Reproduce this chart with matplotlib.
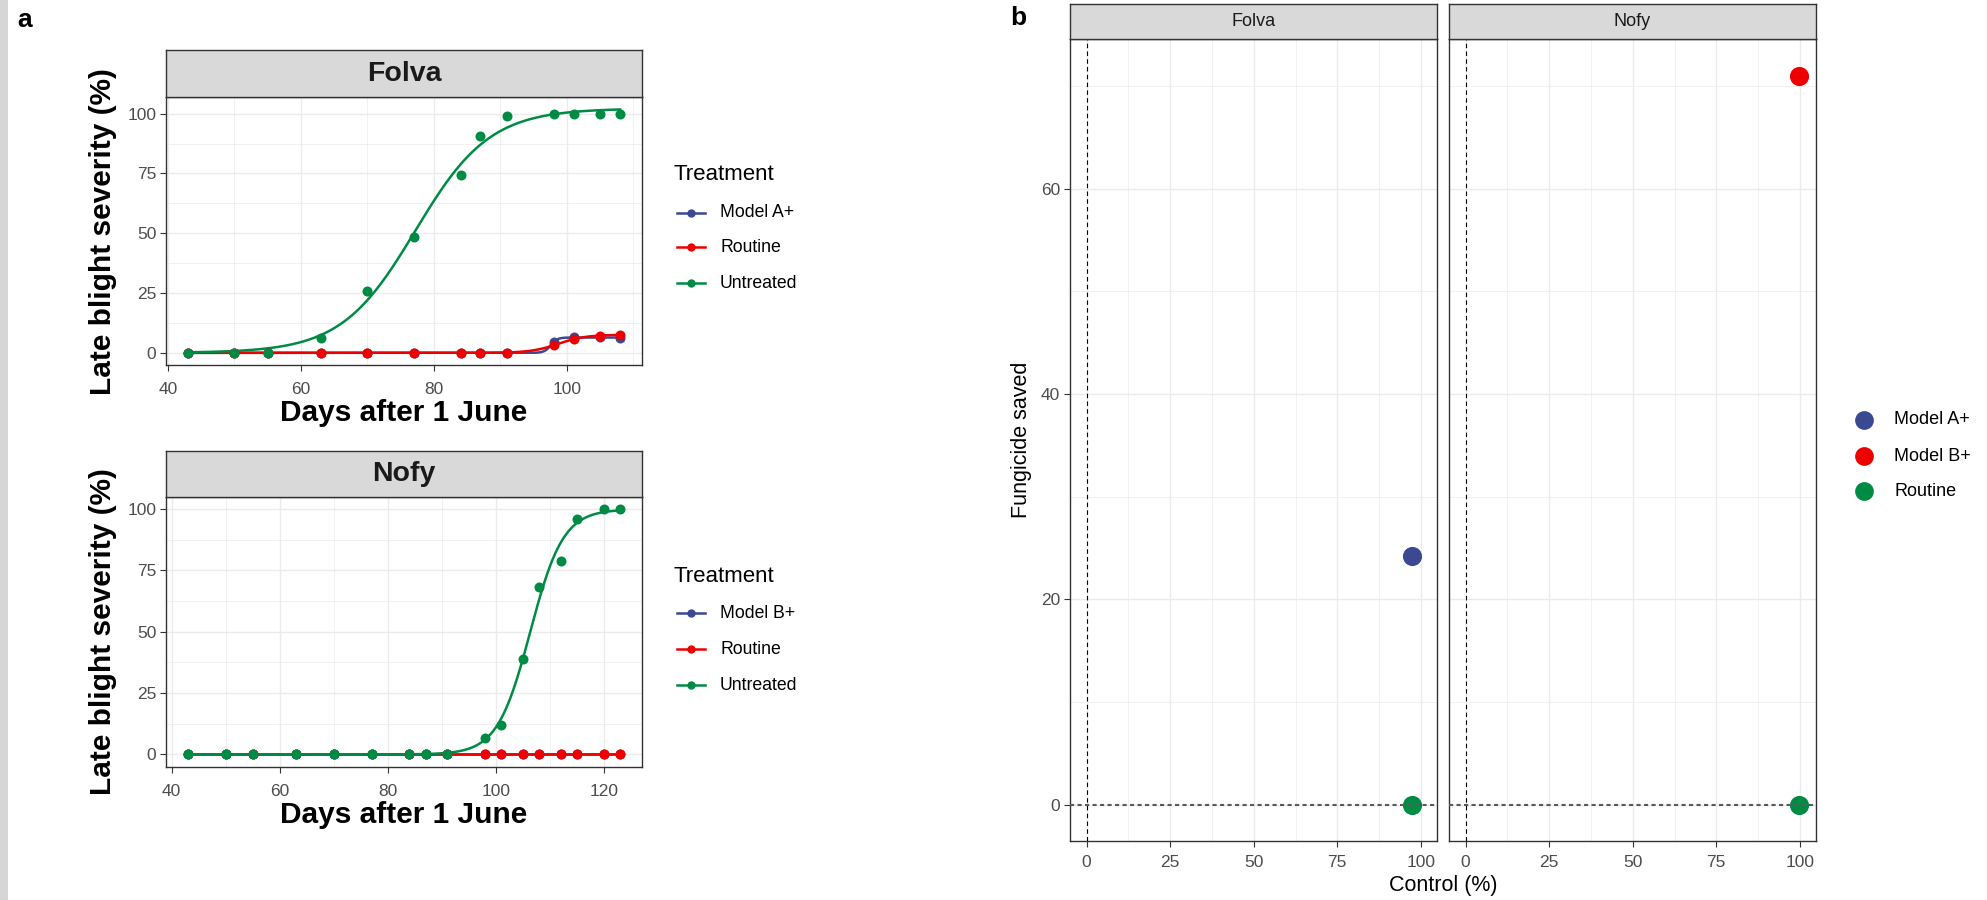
import numpy as np
import matplotlib
matplotlib.use("Agg")
import matplotlib.pyplot as plt
from matplotlib.lines import Line2D
from matplotlib.patches import Rectangle
from matplotlib.ticker import FixedLocator

plt.rcParams['font.family'] = ['Liberation Sans', 'DejaVu Sans']

# ---------------- data ----------------
treat_colors = {"Model A+": "#3B4992", "Model B+": "#3B4992",
                "Routine": "#EE0000", "Untreated": "#008B45"}
b_colors = {"Model A+": "#3B4992", "Model B+": "#EE0000", "Routine": "#008B45"}

days_folva = [43, 50, 55, 63, 70, 77, 84, 87, 91, 98, 101, 105, 108]
folva_model_a = [0, 0, 0, 0, 0, 0, 0, 0, 0, 4.5, 6.7, 6.5, 6.0]
folva_routine = [0, 0, 0, 0, 0, 0, 0, 0, 0, 3.2, 5.7, 7.1, 7.6]
folva_untreated = [0, 0, 0, 6.4, 25.7, 48.5, 74.3, 90.6, 98.9, 100, 100, 100, 100]

days_nofy = [43, 50, 55, 63, 70, 77, 84, 87, 91, 98, 101, 105, 108, 112, 115, 120, 123]
nofy_model_b = [0, 0, 0, 0, 0, 0, 0, 0, 0, 0, 0, 0, 0, 0, 0, 0, 0]
nofy_routine = [0, 0, 0, 0, 0, 0, 0, 0, 0, 0, 0, 0, 0, 0, 0, 0, 0]
nofy_untreated = [0, 0, 0, 0, 0, 0, 0, 0, 0, 6.5, 12, 38.9, 68.3, 79, 96, 100, 100]

b_variety = ["Folva", "Folva", "Nofy", "Nofy"]
b_treatment = ["Model A+", "Routine", "Model B+", "Routine"]
b_control = [97.3, 97.3, 99.7, 99.7]
b_saved = [24.2, 0, 71, 0]

a_xticks_folva = [40, 60, 80, 100]
a_xticks_nofy = [40, 60, 80, 100, 120]
a_yticks = [0, 25, 50, 75, 100]
b_xticks = [0, 25, 50, 75, 100]
b_yticks = [0, 20, 40, 60]

# ---------------- helpers ----------------
W, H = 1987, 900
fig = plt.figure(figsize=(W / 100, H / 100), dpi=100)
fig.patch.set_facecolor("white")


def box(l, t, r, b):
    return [l / W, 1 - b / H, (r - l) / W, (b - t) / H]


def fx(x):
    return x / W


def fy(y):
    return 1 - y / H


def logistic_fit(x, y):
    x = np.asarray(x, float)
    y = np.asarray(y, float)
    if np.allclose(y, 0):
        return lambda t: np.zeros_like(np.asarray(t, float))
    rs = np.linspace(0.03, 3.0, 300)
    x0s = np.linspace(x.min(), x.max(), 400)
    R, X0 = np.meshgrid(rs, x0s, indexing="ij")
    z = np.clip(-R[..., None] * (x[None, None, :] - X0[..., None]), -60, 60)
    B = 1.0 / (1.0 + np.exp(z))
    K = (B * y).sum(-1) / (B * B).sum(-1)
    sse = ((y - K[..., None] * B) ** 2).sum(-1)
    i, j = np.unravel_index(np.argmin(sse), sse.shape)
    k, r, x0 = K[i, j], rs[i], x0s[j]
    return lambda t: k / (1.0 + np.exp(np.clip(-r * (np.asarray(t, float) - x0), -60, 60)))


def expand(lo, hi, m=0.05):
    d = (hi - lo) * m
    return lo - d, hi + d


GRID = "#ebebeb"
BORDER = "#333333"
TICKC = "#4d4d4d"


def style_axes(ax, xmaj, xmin, ymaj, ymin, tsize, xpad):
    ax.set_facecolor("white")
    ax.xaxis.set_major_locator(FixedLocator(xmaj))
    ax.xaxis.set_minor_locator(FixedLocator(xmin))
    ax.yaxis.set_major_locator(FixedLocator(ymaj))
    ax.yaxis.set_minor_locator(FixedLocator(ymin))
    ax.grid(which="major", color=GRID, lw=1.0, zorder=0)
    ax.grid(which="minor", color=GRID, lw=0.5, zorder=0)
    ax.set_axisbelow(True)
    for s in ax.spines.values():
        s.set_color(BORDER)
        s.set_linewidth(1.0)
    ax.tick_params(which="major", length=4.5, width=0.8, color=BORDER,
                   labelcolor=TICKC, labelsize=tsize)
    ax.tick_params(axis="x", which="major", pad=xpad)
    ax.tick_params(axis="y", which="major", pad=2.5)
    ax.tick_params(which="minor", length=0)


def strip(l, t, r, b, text, size, weight):
    sax = fig.add_axes(box(l, t, r, b))
    sax.set_facecolor("#d9d9d9")
    sax.set_xticks([])
    sax.set_yticks([])
    for s in sax.spines.values():
        s.set_color(BORDER)
        s.set_linewidth(1.0)
    sax.text(0.5, 0.5, text, ha="center", va="center", fontsize=size,
             fontweight=weight, color="#1a1a1a", transform=sax.transAxes)
    return sax


# left grey margin of the source figure
fig.patches.append(Rectangle((0, 0), fx(7.5), 1, transform=fig.transFigure,
                             facecolor="#d6d6d6", edgecolor="none"))

# ---------------- panel a ----------------
panels_a = [
    ("Folva", days_folva,
     [("Model A+", folva_model_a), ("Routine", folva_routine), ("Untreated", folva_untreated)],
     a_xticks_folva, (97.3, 365.0), (50.0, 97.3), 413.0, (175.0, [212.7, 247.3, 283.3])),
    ("Nofy", days_nofy,
     [("Model B+", nofy_model_b), ("Routine", nofy_routine), ("Untreated", nofy_untreated)],
     a_xticks_nofy, (496.7, 766.7), (450.7, 496.7), 815.0, (576.7, [613.3, 649.0, 685.0])),
]
AL, AR = 166.2, 641.8
for name, days, series, xt, (top, bot), (st, sb), xlab_y, (ly_title, ly_items) in panels_a:
    ax = fig.add_axes(box(AL, top, AR, bot))
    xs = np.linspace(min(days), max(days), 400)
    ymax, ymin = 0.0, 0.0
    for lab, vals in series:
        f = logistic_fit(days, vals)
        yc = f(xs)
        ax.plot(xs, yc, color=treat_colors[lab], lw=1.8, zorder=3)
        ax.plot(days, vals, "o", color=treat_colors[lab], ms=7.2, mew=0, zorder=4)
        ymax = max(ymax, yc.max(), max(vals))
        ymin = min(ymin, yc.min(), min(vals))
    ax.set_xlim(*expand(min(days), max(days)))
    ax.set_ylim(*expand(ymin, ymax))
    xminor = [v + 10 for v in xt]
    style_axes(ax, xt, xminor, a_yticks, [12.5, 37.5, 62.5, 87.5], 12.5, 8.0)
    ax.set_xlabel("Days after 1 June", fontsize=21.5, fontweight="bold",
                  color="black", va="center")
    ax.xaxis.set_label_coords(0.5, -(xlab_y - bot) / (bot - top))
    ax.set_ylabel("Late blight severity (%)", fontsize=21.5, fontweight="bold",
                  color="black", va="center")
    ax.yaxis.set_label_coords(-(AL - 103.0) / (AR - AL), 0.5)
    strip(AL, st, AR, sb, name, 20.5, "bold")

    # legend
    fig.text(fx(673), fy(ly_title), "Treatment", fontsize=16, color="black",
             ha="left", va="center")
    for (lab, _), yy in zip(series, ly_items):
        fig.add_artist(Line2D([fx(677), fx(705)], [fy(yy), fy(yy)],
                              transform=fig.transFigure, color=treat_colors[lab], lw=1.8))
        fig.add_artist(Line2D([fx(691)], [fy(yy)], transform=fig.transFigure,
                              marker="o", ms=6.0, mew=0, color=treat_colors[lab]))
        fig.text(fx(720), fy(yy), lab, fontsize=12.7, color="black",
                 ha="left", va="center")

fig.text(fx(17), fy(20), "a", fontsize=19, fontweight="bold", ha="left", va="center")

# ---------------- panel b ----------------
BT, BB = 39.3, 841.0
b_panels = [("Folva", 1070.0, 1436.5), ("Nofy", 1449.0, 1815.5)]
all_x = list(b_control) + [0]
xl = expand(min(all_x), max(all_x))
yl = expand(min(b_saved), max(b_saved))
for k, (name, l, r) in enumerate(b_panels):
    ax = fig.add_axes(box(l, BT, r, BB))
    for v, t, cx, sy in zip(b_variety, b_treatment, b_control, b_saved):
        if v == name:
            ax.scatter([cx], [sy], s=190, color=b_colors[t], linewidths=0, zorder=3)
    ax.axvline(0, color="black", lw=0.8, ls=(0, (4, 3)), zorder=4)
    ax.axhline(0, color="#5a5a5a", lw=1.5, ls=(0, (2, 1.6)), zorder=4)
    ax.set_xlim(*xl)
    ax.set_ylim(*yl)
    style_axes(ax, b_xticks, [12.5, 37.5, 62.5, 87.5], b_yticks, [10, 30, 50, 70], 12.5, 5.5)
    if k == 0:
        ax.set_ylabel("Fungicide saved", fontsize=15.5, color="black", va="center")
        ax.yaxis.set_label_coords(-(l - 1021.0) / (r - l), 0.5)
    else:
        ax.tick_params(axis="y", labelleft=False, length=0)
    strip(l, 4.0, r, BT, name, 13, "normal")

fig.text(fx(1443), fy(886), "Control (%)", fontsize=15.5, color="black",
         ha="center", va="center")

# panel b legend
for lab, yy in zip(["Model A+", "Model B+", "Routine"], [420.0, 456.0, 491.0]):
    fig.add_artist(Line2D([fx(1864)], [fy(yy)], transform=fig.transFigure,
                          marker="o", ms=13.5, mew=0, color=b_colors[lab]))
    fig.text(fx(1894), fy(yy), lab, fontsize=13, color="black", ha="left", va="center")

fig.text(fx(1010), fy(18), "b", fontsize=19, fontweight="bold", ha="left", va="center")

fig.savefig("out.png", dpi=100)
